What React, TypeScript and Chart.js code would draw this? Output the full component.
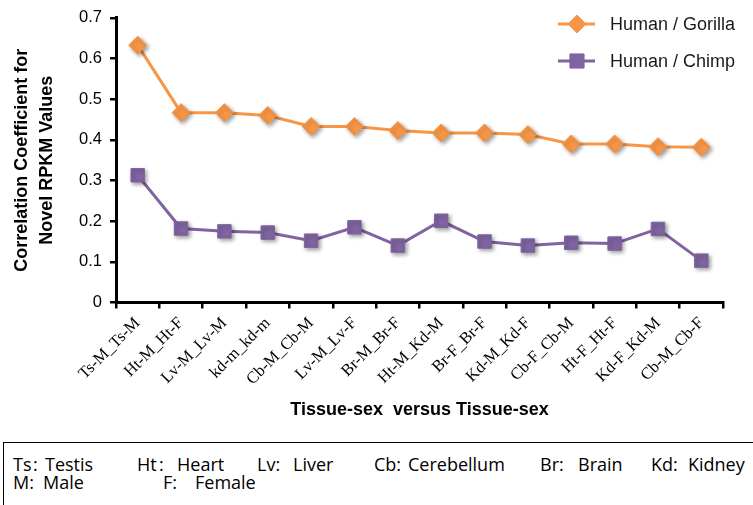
import React, { useEffect, useRef } from 'react';
import { Chart, registerables } from 'chart.js';
import { drawPoint } from 'chart.js/helpers';

Chart.register(...registerables);

const categories = [
  'Ts-M_Ts-M', 'Ht-M_Ht-F', 'Lv-M_Lv-M', 'kd-m_kd-m', 'Cb-M_Cb-M', 'Lv-M_Lv-F', 'Br-M_Br-F',
  'Ht-M_Kd-M', 'Br-F_Br-F', 'Kd-M_Kd-F', 'Cb-F_Cb-M', 'Ht-F_Ht-F', 'Kd-F_Kd-M', 'Cb-M_Cb-F',
];
const humanGorilla = [0.633, 0.467, 0.467, 0.46, 0.433, 0.433, 0.423, 0.417, 0.417, 0.413, 0.39, 0.39, 0.383, 0.382];
const humanChimp = [0.313, 0.182, 0.175, 0.172, 0.152, 0.185, 0.14, 0.201, 0.15, 0.14, 0.147, 0.145, 0.181, 0.103];
const seriesNames = ['Human / Gorilla', 'Human / Chimp'];
const yMin = 0;
const yMax = 0.7;
const yStep = 0.1;

const ORANGE = '#F79646';
const PURPLE = '#8064A2';
const SANS = "'Liberation Sans', Arial, sans-serif";

const shadowPlugin = {
  id: 'markerShadow',
  beforeDatasetDraw(chart: any, args: any) {
    const ds = chart.data.datasets[args.index];
    chart.ctx.save();
    if (ds.showLine === false) {
      chart.ctx.shadowColor = 'rgba(0,0,0,0.4)';
      chart.ctx.shadowBlur = 4;
      chart.ctx.shadowOffsetX = 2;
      chart.ctx.shadowOffsetY = 2;
    }
  },
  afterDatasetDraw(chart: any) {
    chart.ctx.restore();
  },
};

const legendPlugin = {
  id: 'customLegend',
  afterDraw(chart: any) {
    const ctx = chart.ctx;
    const items = [
      { label: seriesNames[0], color: ORANGE, style: 'rectRot', radius: 9, y: 24 },
      { label: seriesNames[1], color: PURPLE, style: 'rect', radius: 10, y: 61 },
    ];
    items.forEach((it) => {
      ctx.save();
      ctx.strokeStyle = it.color;
      ctx.lineWidth = 3;
      ctx.beginPath();
      ctx.moveTo(558, it.y);
      ctx.lineTo(595, it.y);
      ctx.stroke();
      ctx.fillStyle = it.color;
      ctx.strokeStyle = it.color;
      ctx.lineWidth = 1;
      drawPoint(ctx, { pointStyle: it.style, radius: it.radius, borderWidth: 1, rotation: 0 }, 577, it.y);
      ctx.fillStyle = '#1a1a1a';
      ctx.font = `18px ${SANS}`;
      ctx.textBaseline = 'middle';
      ctx.textAlign = 'left';
      ctx.fillText(it.label, 610, it.y + 1);
      ctx.restore();
    });
  },
};

export default function App() {
  const ref = useRef<HTMLCanvasElement | null>(null);

  useEffect(() => {
    if (!ref.current) return;
    const chart = new Chart(ref.current, {
      type: 'line',
      data: {
        labels: categories,
        datasets: [
          {
            label: seriesNames[0] + ' line',
            data: humanGorilla,
            borderColor: ORANGE,
            borderWidth: 3,
            pointRadius: 0,
            fill: false,
            order: 4,
          },
          {
            label: seriesNames[0],
            data: humanGorilla,
            showLine: false,
            pointStyle: 'rectRot',
            pointRadius: 9,
            pointBackgroundColor: ORANGE,
            pointBorderColor: ORANGE,
            pointBorderWidth: 1,
            order: 3,
          },
          {
            label: seriesNames[1] + ' line',
            data: humanChimp,
            borderColor: PURPLE,
            borderWidth: 3,
            pointRadius: 0,
            fill: false,
            order: 2,
          },
          {
            label: seriesNames[1],
            data: humanChimp,
            showLine: false,
            pointStyle: 'rect',
            pointRadius: 9.5,
            pointBackgroundColor: PURPLE,
            pointBorderColor: PURPLE,
            pointBorderWidth: 1,
            order: 1,
          },
        ],
      },
      options: {
        animation: false,
        responsive: false,
        maintainAspectRatio: false,
        layout: { padding: { top: 16, right: 30, left: 0, bottom: 0 } },
        plugins: {
          legend: { display: false },
          tooltip: { enabled: false },
        },
        scales: {
          x: {
            offset: true,
            ticks: {
              color: '#000',
              font: { family: "'Liberation Serif', 'Times New Roman', serif", size: 16.5 },
              minRotation: 45,
              maxRotation: 45,
              autoSkip: false,
              padding: 5,
            },
            grid: {
              offset: true,
              drawOnChartArea: false,
              drawTicks: true,
              tickLength: 6,
              color: '#000',
              lineWidth: 2.5,
            },
            border: { display: true, color: '#000', width: 3 },
            title: {
              display: true,
              text: 'Tissue-sex  versus Tissue-sex',
              color: '#000',
              font: { family: SANS, size: 18, weight: 'bold', lineHeight: 1.2 },
              padding: { top: 0, bottom: 19 },
            },
            afterFit: (s: any) => {
              s.height = 137.5;
            },
          },
          y: {
            min: yMin,
            max: yMax,
            ticks: {
              stepSize: yStep,
              color: '#000',
              font: { family: SANS, size: 16.5 },
              padding: 8,
            },
            grid: {
              drawOnChartArea: false,
              drawTicks: true,
              tickLength: 6,
              color: '#000',
              lineWidth: 2.5,
            },
            border: { display: true, color: '#000', width: 3 },
            title: {
              display: true,
              text: ['Correlation Coefficient for', 'Novel RPKM Values'],
              color: '#000',
              font: { family: SANS, size: 18, weight: 'bold', lineHeight: '25px' },
              padding: { top: 9.5, bottom: 0 },
            },
            afterFit: (s: any) => {
              s.width = 116;
            },
          },
        },
      },
      plugins: [shadowPlugin, legendPlugin],
    } as any);
    return () => chart.destroy();
  }, []);

  const noteFont = "'Open Sans', 'Noto Sans', sans-serif";
  const word = (text: string, left: number, top: number) => (
    <span
      key={text + left + top}
      style={{ position: 'absolute', left, top, fontFamily: noteFont, fontSize: 18, lineHeight: '18px', color: '#000', whiteSpace: 'pre' }}
    >
      {text}
    </span>
  );

  return (
    <div style={{ position: 'fixed', left: 0, top: 0, width: 753, height: 505, background: '#fff', overflow: 'hidden' }}>
      <canvas ref={ref} width={753} height={440} style={{ position: 'absolute', left: 0, top: 0, width: 753, height: 440 }} />
      <div
        style={{
          position: 'absolute',
          left: 3,
          top: 442,
          width: 800,
          height: 100,
          borderTop: '1.5px solid #000',
          borderLeft: '1.5px solid #000',
        }}
      />
      {word('Ts', 13, 455)}
      {word(':', 33, 455)}
      {word('Testis', 45, 455)}
      {word('Ht', 137, 455)}
      {word(':', 159, 455)}
      {word('Heart', 177, 455)}
      {word('Lv:', 257, 455)}
      {word('Liver', 293, 455)}
      {word('Cb:', 374, 455)}
      {word('Cerebellum', 408, 455)}
      {word('Br:', 540, 455)}
      {word('Brain', 578, 455)}
      {word('Kd:', 651, 455)}
      {word('Kidney', 688, 455)}
      {word('M:', 13, 473)}
      {word('Male', 43, 473)}
      {word('F:', 163, 473)}
      {word('Female', 195, 473)}
    </div>
  );
}
